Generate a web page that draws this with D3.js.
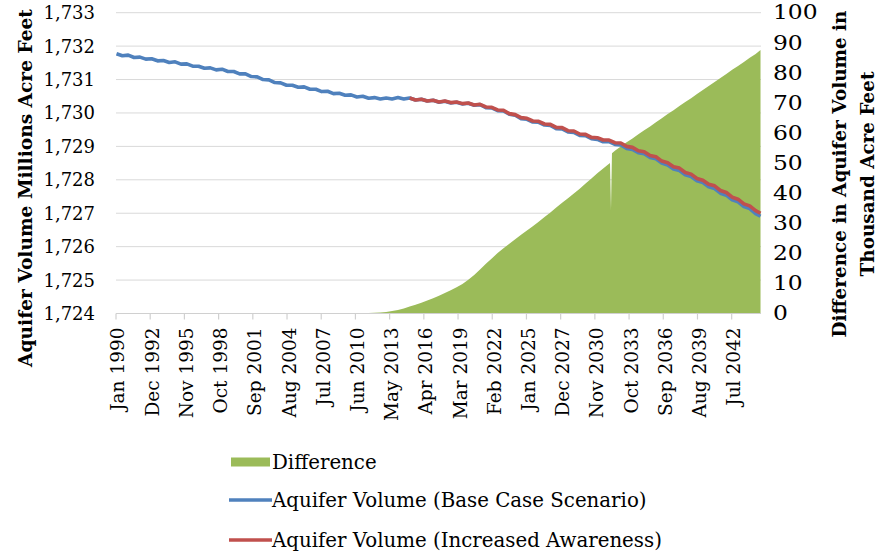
<!DOCTYPE html>
<html><head><meta charset="utf-8">
<script src="https://cdn.jsdelivr.net/npm/d3@7"></script>
<style>
body{margin:0;background:#fff}
svg{display:block}
svg text{fill:#000}
</style>
</head><body>
<svg id="c" width="880" height="556"></svg>
<script>
// ---------- data ----------
const tickLabels = ["Jan 1990","Dec 1992","Nov 1995","Oct 1998","Sep 2001","Aug 2004","Jul 2007","Jun 2010","May 2013","Apr 2016","Mar 2019","Feb 2022","Jan 2025","Dec 2027","Nov 2030","Oct 2033","Sep 2036","Aug 2039","Jul 2042"];
const leftTicks = [1724,1725,1726,1727,1728,1729,1730,1731,1732,1733];
const rightTicks = [0,10,20,30,40,50,60,70,80,90,100];

// half-year categories (Jan / Jul of each year) plus the last month
const halfYears = d3.range(1990, 2045).flatMap(y => [y + "-01", y + "-07"]).concat(["2044-12"]);

const baseValues = [
 1731.77,1731.71, 1731.73,1731.66, 1731.67,1731.61, 1731.62,1731.56, 1731.57,1731.51,
 1731.53,1731.46, 1731.47,1731.40, 1731.40,1731.34, 1731.35,1731.29, 1731.31,1731.24,
 1731.24,1731.17, 1731.17,1731.09, 1731.08,1731.00, 1730.99,1730.91, 1730.90,1730.83,
 1730.83,1730.77, 1730.78,1730.71, 1730.71,1730.64, 1730.65,1730.58, 1730.59,1730.53,
 1730.54,1730.48, 1730.50,1730.44, 1730.46,1730.42, 1730.45,1730.42, 1730.46,1730.42,
 1730.45,1730.39, 1730.41,1730.36, 1730.38,1730.32, 1730.35,1730.30, 1730.32,1730.27,
 1730.29,1730.23, 1730.25,1730.16, 1730.15,1730.07, 1730.06,1729.96, 1729.93,1729.83,
 1729.81,1729.73, 1729.72,1729.64, 1729.63,1729.53, 1729.52,1729.43, 1729.42,1729.33,
 1729.32,1729.23, 1729.21,1729.14, 1729.14,1729.06, 1729.04,1728.94, 1728.91,1728.81,
 1728.78,1728.67, 1728.63,1728.50, 1728.44,1728.32, 1728.28,1728.15, 1728.10,1727.97,
 1727.92,1727.79, 1727.74,1727.60, 1727.54,1727.40, 1727.34,1727.20, 1727.14,1726.99,
 1726.91];

const awareDates = halfYears.slice(50); // from 2015-01
const awareValues = [
 1730.45,1730.39, 1730.41,1730.36, 1730.38,1730.33, 1730.36,1730.31, 1730.33,1730.28,
 1730.30,1730.24, 1730.26,1730.18, 1730.17,1730.09, 1730.08,1729.98, 1729.95,1729.86,
 1729.84,1729.76, 1729.75,1729.67, 1729.66,1729.57, 1729.56,1729.47, 1729.46,1729.37,
 1729.36,1729.27, 1729.26,1729.19, 1729.19,1729.11, 1729.10,1729.00, 1728.97,1728.87,
 1728.84,1728.73, 1728.69,1728.56, 1728.51,1728.39, 1728.35,1728.22, 1728.17,1728.04,
 1727.99,1727.87, 1727.82,1727.68, 1727.62,1727.48, 1727.42,1727.28, 1727.22,1727.08,
 1727.00];

const diffDates = ["1990-01","2010-01","2010-03","2010-07","2011-01","2011-07","2012-01","2012-07","2013-01","2013-07",
 "2014-01","2014-07","2015-01","2015-07","2016-01","2016-07","2017-01","2017-07","2018-01","2018-07",
 "2019-01","2019-07","2020-01","2020-07","2021-01","2021-07","2022-01","2022-07","2023-01","2023-07",
 "2024-01","2024-07","2025-01","2025-07","2026-01","2026-07","2027-01","2027-07","2028-01","2028-07",
 "2029-01","2029-07","2030-01","2030-07","2031-01","2031-07","2032-01","2032-02","2032-03","2032-04",
 "2032-07","2033-01","2033-07","2034-01","2034-07","2035-01","2035-07","2036-01","2036-07","2037-01",
 "2037-07","2038-01","2038-07","2039-01","2039-07","2040-01","2040-07","2041-01","2041-07","2042-01",
 "2042-07","2043-01","2043-07","2044-01","2044-07","2044-12"];
const diffValues = [0,0,0.05,0.08,0.12,0.18,0.24,0.3,0.5,0.8,
 1.2,1.7,2.3,2.9,3.6,4.3,5.1,5.9,6.8,7.7,
 8.7,9.8,11.2,12.8,14.6,16.5,18.3,20.1,21.7,23.2,
 24.7,26.2,27.6,29.0,30.5,32.1,33.6,35.2,36.8,38.3,
 39.9,41.5,43.2,44.9,46.6,48.2,49.8,50.0,34.4,53.3,
 54.1,55.5,56.9,58.2,59.6,60.9,62.2,63.6,64.9,66.3,
 67.6,69.0,70.3,71.6,73.0,74.3,75.6,77.0,78.3,79.6,
 81.0,82.3,83.6,85.0,86.3,87.6];

const legendItems = [
 {label:"Difference", type:"area", color:"#9BBB59"},
 {label:"Aquifer Volume (Base Case Scenario)", type:"line", color:"#4F81BD"},
 {label:"Aquifer Volume (Increased Awareness)", type:"line", color:"#C0504D"}
];

// ---------- helpers ----------
const monthIndex = s => { const [y, m] = s.split("-").map(Number); return (y - 1990) * 12 + (m - 1); };
const nMonths = 660;
const FONT = "DejaVu Serif";

const svg = d3.select("#c");
const L = 116, R = 761, T = 12.7, B = 313.5;

const x = d3.scaleLinear().domain([0, nMonths]).range([L, R]);
const yL = d3.scaleLinear().domain([1724, 1733]).range([B, T]);
const yR = d3.scaleLinear().domain([0, 100]).range([B, T]);

// gridlines
svg.append("g").selectAll("line").data(leftTicks.slice(1)).join("line")
  .attr("x1", L).attr("x2", R).attr("y1", d => yL(d)).attr("y2", d => yL(d))
  .attr("stroke", "#d9d9d9").attr("stroke-width", 1);

// area
const diffData = diffDates.map((d, i) => ({m: monthIndex(d), v: diffValues[i]}));
svg.append("path").datum(diffData)
  .attr("fill", "#9BBB59")
  .attr("d", d3.area().x(d => x(d.m + 0.5)).y0(yR(0)).y1(d => yR(d.v)));

// bottom axis
const xAxis = svg.append("g");
xAxis.append("line").attr("x1", L).attr("x2", R).attr("y1", B).attr("y2", B)
  .attr("stroke", "#d0d0d0").attr("stroke-width", 1.2);
const tickMonths = tickLabels.map((_, k) => 35 * k);
xAxis.selectAll("line.t").data(tickMonths).join("line").attr("class", "t")
  .attr("x1", d => x(d)).attr("x2", d => x(d)).attr("y1", B).attr("y2", B + 6)
  .attr("stroke", "#d0d0d0").attr("stroke-width", 1.2);
xAxis.selectAll("text").data(tickLabels).join("text")
  .attr("transform", (d, k) => `translate(${x(tickMonths[k] + 0.5) + 1.5},${B + 14}) rotate(-90)`)
  .attr("text-anchor", "end").attr("dominant-baseline", "central")
  .attr("font-family", FONT).attr("font-size", 18.5).text(d => d);

// left axis labels
svg.append("g").selectAll("text").data(leftTicks).join("text")
  .attr("x", 95).attr("y", d => yL(d)).attr("text-anchor", "end")
  .attr("dominant-baseline", "central").attr("font-family", FONT).attr("font-size", 18)
  .text(d => d3.format(",")(d));

// right axis labels
svg.append("g").selectAll("text").data(rightTicks).join("text")
  .attr("transform", d => `translate(773,${yR(d)}) scale(1.2,1)`)
  .attr("dominant-baseline", "central").attr("font-family", FONT).attr("font-size", 19.5)
  .text(d => d);

// lines
const line = d3.line().x(d => x(d.m + 0.5)).y(d => yL(d.v));
const baseData = halfYears.map((d, i) => ({m: monthIndex(d), v: baseValues[i]}));
const awareData = awareDates.map((d, i) => ({m: monthIndex(d), v: awareValues[i]}));
svg.append("path").datum(baseData).attr("fill", "none").attr("stroke", "#4F81BD")
  .attr("stroke-width", 3.6).attr("stroke-linejoin", "round").attr("d", line);
svg.append("path").datum(awareData).attr("fill", "none").attr("stroke", "#C0504D")
  .attr("stroke-width", 3.6).attr("stroke-linejoin", "round").attr("d", line);

// axis titles
svg.append("text").attr("transform", "translate(32,188) rotate(-90)")
  .attr("text-anchor", "middle").attr("font-weight", "bold").attr("font-family", FONT).attr("font-size", 18.6)
  .text("Aquifer Volume Millions Acre Feet");
const rt = svg.append("text").attr("transform", "translate(846,174) rotate(-90)")
  .attr("text-anchor", "middle").attr("font-weight", "bold").attr("font-family", FONT).attr("font-size", 18.4);
rt.append("tspan").attr("x", 0).attr("dy", 0).text("Difference in Aquifer Volume in");
rt.append("tspan").attr("x", 0).attr("dy", 28).text("Thousand Acre Feet");

// legend
const legY = [462, 500, 540];
const lg = svg.append("g").selectAll("g").data(legendItems).join("g")
  .attr("transform", (d, i) => `translate(0,${legY[i]})`);
lg.filter(d => d.type === "area").append("rect")
  .attr("x", 231).attr("y", -4.5).attr("width", 39).attr("height", 9).attr("fill", d => d.color);
lg.filter(d => d.type === "line").append("line")
  .attr("x1", 229).attr("x2", 272).attr("y1", 0).attr("y2", 0)
  .attr("stroke", d => d.color).attr("stroke-width", 3.6);
lg.append("text").attr("x", 272).attr("y", 0).attr("dominant-baseline", "central")
  .attr("font-family", FONT).attr("font-size", 19.8).text(d => d.label);
</script>
</body></html>
